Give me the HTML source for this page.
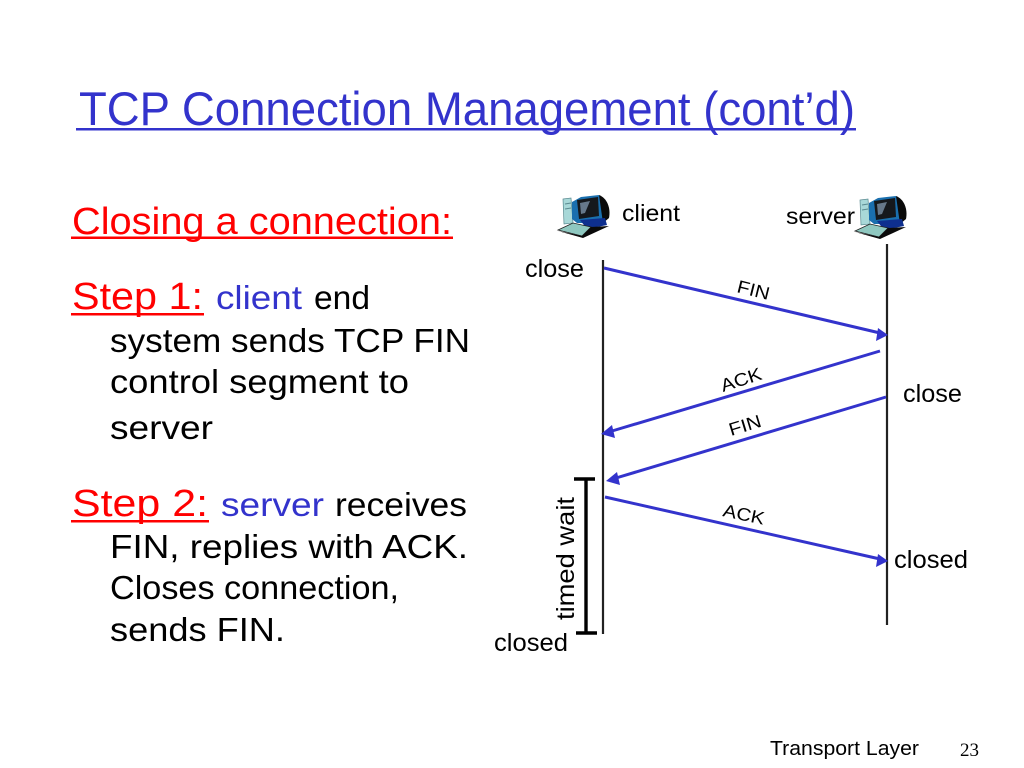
<!DOCTYPE html>
<html><head><meta charset="utf-8"><style>
html,body{margin:0;padding:0;background:#fff;width:1024px;height:768px;overflow:hidden}
svg{display:block}
text{font-family:"Liberation Sans",sans-serif;fill:#000}
.b{fill:#3333cc}.r{fill:#ff0000}
</style></head><body>
<svg width="1024" height="768" viewBox="0 0 1024 768" xmlns="http://www.w3.org/2000/svg">
<defs>
<g id="pc">
<polygon points="6,5 14,4 16,29 7,30" fill="#a8d8d8" stroke="#5a8a90" stroke-width="0.7"/>
<line x1="8" y1="10" x2="14" y2="9" stroke="#5a8a90" stroke-width="1"/>
<line x1="8" y1="15" x2="14" y2="14" stroke="#5a8a90" stroke-width="1"/>
<polygon points="15,8 24,3 42,1 48,10 50,24 40,29 20,29 15,25" fill="#1a6fae"/>
<path d="M42,1 C50,4 54,14 52,24 L46,29 Z" fill="#0a0a0a"/>
<polygon points="20,6 41,3 42,22 22,25" fill="#15181c"/>
<polygon points="23,9 33,7 28,19 24,20" fill="#66788a"/>
<polygon points="23,26 48,24 50,31 30,35" fill="#0e2f8f"/>
<polygon points="1,36 16,29 34,33 25,42" fill="#8fc8c0" stroke="#222" stroke-width="0.8"/>
<polygon points="1,37 25,42 34,33 52,32 26,44" fill="#0a0a0a"/>
</g>
</defs>

<!-- title -->
<text x="79" y="125" font-size="47" class="b" textLength="776" lengthAdjust="spacingAndGlyphs">TCP Connection Management (cont’d)</text>
<rect x="76" y="128" width="780" height="2.5" fill="#3333cc"/>

<!-- left column -->
<text x="72" y="234" font-size="38" class="r" textLength="380" lengthAdjust="spacingAndGlyphs">Closing a connection:</text>
<rect x="71" y="236.5" width="382" height="2.5" fill="#ff0000"/>

<text x="72" y="309" font-size="38" class="r" textLength="131" lengthAdjust="spacingAndGlyphs">Step 1:</text>
<rect x="71" y="313" width="133" height="2.5" fill="#ff0000"/>
<text x="216" y="309" font-size="33" class="b" textLength="86" lengthAdjust="spacingAndGlyphs">client</text>
<text x="314" y="309" font-size="33" textLength="56" lengthAdjust="spacingAndGlyphs">end</text>
<text x="110" y="352" font-size="33" textLength="360" lengthAdjust="spacingAndGlyphs">system sends TCP FIN</text>
<text x="110" y="393" font-size="33" textLength="299" lengthAdjust="spacingAndGlyphs">control segment to</text>
<text x="110" y="439" font-size="33" textLength="103" lengthAdjust="spacingAndGlyphs">server</text>

<text x="72" y="516" font-size="38" class="r" textLength="136" lengthAdjust="spacingAndGlyphs">Step 2:</text>
<rect x="71" y="520" width="138" height="2.5" fill="#ff0000"/>
<text x="221" y="516" font-size="33" class="b" textLength="103" lengthAdjust="spacingAndGlyphs">server</text>
<text x="335" y="516" font-size="33" textLength="132" lengthAdjust="spacingAndGlyphs">receives</text>
<text x="110" y="558" font-size="33" textLength="358" lengthAdjust="spacingAndGlyphs">FIN, replies with ACK.</text>
<text x="110" y="599" font-size="33" textLength="289" lengthAdjust="spacingAndGlyphs">Closes connection,</text>
<text x="110" y="641" font-size="33" textLength="175" lengthAdjust="spacingAndGlyphs">sends FIN.</text>

<!-- icons -->
<use href="#pc" transform="translate(557,194)"/>
<use href="#pc" transform="translate(854,195)"/>

<!-- labels -->
<text x="622" y="221" font-size="23" textLength="58" lengthAdjust="spacingAndGlyphs">client</text>
<text x="786" y="224" font-size="23" textLength="69" lengthAdjust="spacingAndGlyphs">server</text>
<text x="525" y="277" font-size="25" textLength="59" lengthAdjust="spacingAndGlyphs">close</text>
<text x="903" y="402" font-size="25" textLength="59" lengthAdjust="spacingAndGlyphs">close</text>
<text x="894" y="568" font-size="25" textLength="74" lengthAdjust="spacingAndGlyphs">closed</text>
<text x="494" y="651" font-size="25" textLength="74" lengthAdjust="spacingAndGlyphs">closed</text>
<text transform="translate(574,620) rotate(-90)" font-size="25" textLength="123" lengthAdjust="spacingAndGlyphs">timed wait</text>

<!-- lifelines -->
<line x1="603" y1="260" x2="603" y2="634" stroke="#222" stroke-width="2.2"/>
<line x1="887" y1="244" x2="887" y2="625" stroke="#222" stroke-width="2.2"/>

<!-- timed wait bracket -->
<g stroke="#000" stroke-width="3.4">
<line x1="586" y1="479" x2="586" y2="633"/>
<line x1="574" y1="479" x2="595" y2="479"/>
<line x1="576" y1="633" x2="597" y2="633"/>
</g>

<!-- arrows -->
<g stroke="#3333cc" stroke-width="3" fill="none">
<line x1="604" y1="268" x2="880" y2="333"/>
<line x1="880" y1="351" x2="612" y2="431"/>
<line x1="886" y1="397" x2="616" y2="478"/>
<line x1="605" y1="497" x2="880" y2="559"/>
</g>
<g fill="#3333cc">
<polygon points="888,335 876,341 878,328"/>
<polygon points="601,434 612,425 615,438"/>
<polygon points="606,481 617,472 620,485"/>
<polygon points="888,561 876,567 878,554"/>
</g>

<!-- arrow labels -->
<text transform="translate(736,292) rotate(14)" font-size="18" textLength="33" lengthAdjust="spacingAndGlyphs">FIN</text>
<text transform="translate(723,392) rotate(-18)" font-size="18" textLength="42" lengthAdjust="spacingAndGlyphs">ACK</text>
<text transform="translate(731,436) rotate(-17)" font-size="18" textLength="33" lengthAdjust="spacingAndGlyphs">FIN</text>
<text transform="translate(722,516) rotate(12)" font-size="18" textLength="42" lengthAdjust="spacingAndGlyphs">ACK</text>

<!-- footer -->
<text x="770" y="755" font-size="20" textLength="149" lengthAdjust="spacingAndGlyphs">Transport Layer</text>
<text x="960" y="756" font-size="19" style="font-family:'Liberation Serif',serif" textLength="19" lengthAdjust="spacingAndGlyphs">23</text>
</svg>
</body></html>
